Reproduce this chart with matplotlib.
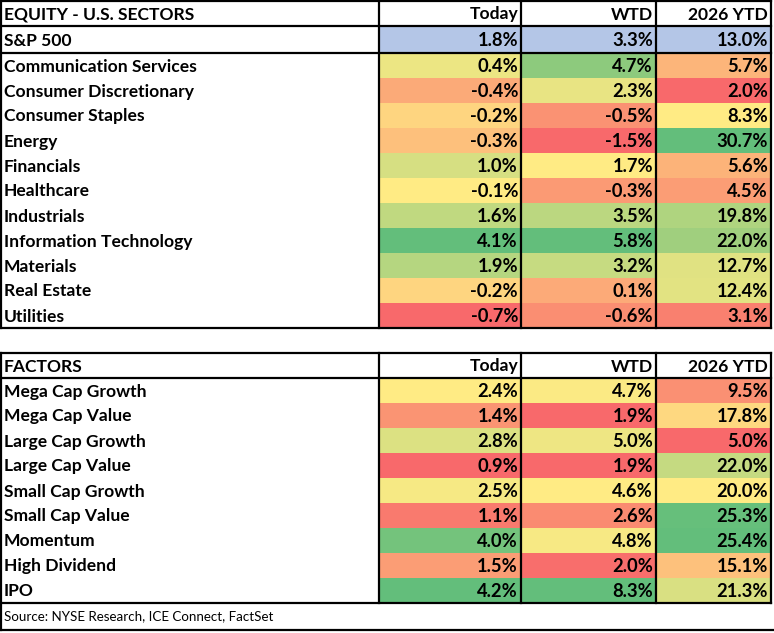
import numpy as np
import matplotlib
matplotlib.use("Agg")
import matplotlib.pyplot as plt
from matplotlib.patches import Rectangle

# ---- data ----
col_headers = ["Today", "WTD", "2026 YTD"]

sector_title = "EQUITY - U.S. SECTORS"
index_name = "S&P 500"
index_vals = [1.8, 3.3, 13.0]

sectors = ["Communication Services", "Consumer Discretionary", "Consumer Staples",
           "Energy", "Financials", "Healthcare", "Industrials",
           "Information Technology", "Materials", "Real Estate", "Utilities"]
sector_today = [0.4, -0.4, -0.2, -0.3, 1.0, -0.1, 1.6, 4.1, 1.9, -0.2, -0.7]
sector_wtd = [4.7, 2.3, -0.5, -1.5, 1.7, -0.3, 3.5, 5.8, 3.2, 0.1, -0.6]
sector_ytd = [5.7, 2.0, 8.3, 30.7, 5.6, 4.5, 19.8, 22.0, 12.7, 12.4, 3.1]

factor_title = "FACTORS"
factors = ["Mega Cap Growth", "Mega Cap Value", "Large Cap Growth", "Large Cap Value",
           "Small Cap Growth", "Small Cap Value", "Momentum", "High Dividend", "IPO"]
factor_today = [2.4, 1.4, 2.8, 0.9, 2.5, 1.1, 4.0, 1.5, 4.2]
factor_wtd = [4.7, 1.9, 5.0, 1.9, 4.6, 2.6, 4.8, 2.0, 8.3]
factor_ytd = [9.5, 17.8, 5.0, 22.0, 20.0, 25.3, 25.4, 15.1, 21.3]

source = "Source: NYSE Research, ICE Connect, FactSet"

# ---- style ----
RED = np.array([248, 105, 107]) / 255
YEL = np.array([255, 235, 132]) / 255
GRN = np.array([99, 190, 123]) / 255
BLUE = "#b4c6e7"

col_x = [1, 379, 521, 656, 771]
row_h = 25
lw = 1.6
font = "Lato"
fs_lab = 12.6
fs_num = 13.2


def scale_color(v, vals):
    # excel style 3-colour scale: min red, median yellow, max green
    lo, hi = min(vals), max(vals)
    mid = np.percentile(vals, 50)
    if v <= mid:
        t = 0 if mid == lo else (v - lo) / (mid - lo)
        return RED + t * (YEL - RED)
    t = 0 if hi == mid else (v - mid) / (hi - mid)
    return YEL + t * (GRN - YEL)


fig = plt.figure(figsize=(7.74, 6.33), dpi=100)
ax = fig.add_axes([0, 0, 1, 1])
ax.set_xlim(0, 774)
ax.set_ylim(633, 0)
ax.axis("off")


def hline(y, x0=col_x[0], x1=col_x[-1]):
    ax.plot([x0, x1], [y, y], color="black", lw=lw, solid_capstyle="projecting")


def vline(x, y0, y1):
    ax.plot([x, x], [y0, y1], color="black", lw=lw, solid_capstyle="projecting")


def label(y0, h, txt, bold=True):
    ax.text(col_x[0] + 3, y0 + h / 2 + 1, txt, ha="left", va="center",
            family=font, fontsize=fs_lab, fontweight="bold" if bold else "normal")


def num(y0, h, j, v):
    ax.text(col_x[j + 2] - 3, y0 + h / 2 + 1, f"{v:.1f}%", ha="right", va="center",
            family=font, fontsize=fs_num, fontweight="bold")


def block(top, title, names, cols, extra=None):
    y = top
    label(y, row_h, title)
    for j, h in enumerate(col_headers):
        ax.text(col_x[j + 2] - 3, y + row_h / 2 + 1, h, ha="right", va="center",
                family=font, fontsize=fs_lab, fontweight="bold")
    y += row_h
    hline(y)
    if extra is not None:
        name, vals = extra
        for j, v in enumerate(vals):
            ax.add_patch(Rectangle((col_x[j + 1], y), col_x[j + 2] - col_x[j + 1], row_h + 2,
                                   facecolor=BLUE, edgecolor="none"))
            num(y, row_h + 2, j, v)
        label(y, row_h + 2, name)
        y += row_h + 2
        hline(y)
    for i, n in enumerate(names):
        for j, vals in enumerate(cols):
            ax.add_patch(Rectangle((col_x[j + 1], y), col_x[j + 2] - col_x[j + 1], row_h,
                                   facecolor=scale_color(vals[i], vals), edgecolor="none"))
            num(y, row_h, j, vals[i])
        label(y, row_h, n)
        y += row_h
    hline(top)
    hline(y)
    for x in col_x:
        vline(x, top, y)
    return y


block(1, sector_title, sectors, [sector_today, sector_wtd, sector_ytd],
      extra=(index_name, index_vals))
bottom = block(353, factor_title, factors, [factor_today, factor_wtd, factor_ytd])

# source box (no right border)
src_bottom = bottom + 27
hline(src_bottom, col_x[0], 774)
vline(col_x[0], bottom, src_bottom)
ax.text(col_x[0] + 3, bottom + 13.5, source, ha="left", va="center",
        family=font, fontsize=9.6)

fig.savefig("out.png", dpi=100)
